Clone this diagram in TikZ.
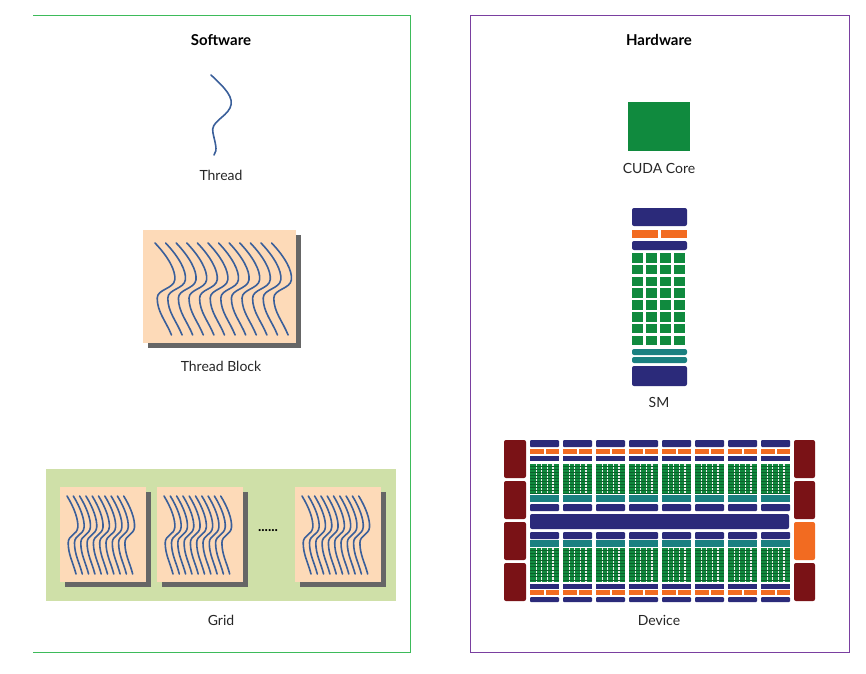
\documentclass[tikz,border=0pt]{standalone}
\usepackage{fontspec}
\setmainfont{Lato}
\definecolor{navy}{HTML}{2B2A7A}
\definecolor{cgreen}{HTML}{108A3E}
\definecolor{corange}{HTML}{F26B21}
\definecolor{cteal}{HTML}{1A8080}
\definecolor{cred}{HTML}{7A1216}
\definecolor{peach}{HTML}{FDDAB8}
\definecolor{lgreen}{HTML}{CFE0A8}
\definecolor{wblue}{HTML}{3A5F9A}
\definecolor{sgreen}{HTML}{3DBB5A}
\definecolor{spurple}{HTML}{7A3FA0}
\tikzset{
 lbl/.style={font=\fontsize{14}{16}\selectfont, text=black!85},
 ttl/.style={font=\fontsize{15}{18}\selectfont\bfseries},
 wave/.style={draw=wblue, line width=1.6pt, line cap=round},
 blk/.style={fill=peach, draw=none},
 shad/.style={fill=black!60, draw=none},
 pics/wv/.style={code={\draw[wave] (0,0) .. controls (0.6,0.15) and (0.95,0.3) .. (0.9,0.4) .. controls (0.85,0.5) and (0.1,0.5) .. (0.1,0.6) .. controls (0.1,0.75) and (0.5,0.85) .. (0.75,1);}}
}
\newcommand{\tblock}[4]{% x1 y1 x2 y2
 \fill[shad] (#1+5,#2+5) rectangle (#3+5,#4+5);
 \fill[blk] (#1,#2) rectangle (#3,#4);
}
\begin{document}
\begin{tikzpicture}[x=1pt,y=-1pt]
\useasboundingbox (0,0) rectangle (866,673);
% frames
\draw[sgreen, line width=0.8pt] (33,15) -- (410,15) -- (410,652) -- (33,652);
\draw[spurple, line width=0.8pt] (470,15) rectangle (849,652);
\node[ttl] (sw) at (221,40) {Software};
\node[ttl] (hw) at (659,40) {Hardware};
% thread
\draw[wave] (211,75) .. controls (225,88) and (235,98) .. (230,108) .. controls (225,118) and (210,122) .. (213,133) .. controls (215,143) and (218,150) .. (214,155);
\node[lbl] (thread) at (221,175) {Thread};
% thread block
\tblock{143}{230}{296}{343}
\foreach \i in {0,...,11}
  \pic[xscale=22,yscale=92] at (155+10.6*\i,243) {wv};
\node[lbl] (tb) at (221,366) {Thread Block};
% grid
\fill[lgreen] (46,469) rectangle (396,601);
\foreach \gx in {60,157,295}{
  \tblock{\gx}{487}{\gx+86}{582}
  \foreach \i in {0,...,9}
    \pic[xscale=12,yscale=78] at (\gx+7+6.3*\i,496) {wv};
}
\node[font=\fontsize{14}{16}\selectfont\bfseries] (dots) at (268,531) {......};
\node[lbl] (grid) at (221,620) {Grid};
% CUDA core
\fill[cgreen] (628,102) rectangle (690,151);
\node[lbl] (core) at (659,168) {CUDA Core};
% SM
\fill[navy, rounded corners=2pt] (632,208) rectangle (687,226);
\fill[corange] (632,230) rectangle (658,238);
\fill[corange] (661,230) rectangle (687,238);
\fill[navy, rounded corners=2pt] (632,241) rectangle (687,250);
\foreach \r in {0,...,7}
  \foreach \c in {0,...,3}
    \fill[cgreen] (632+14.1*\c,253+11.8*\r) rectangle (643+14.1*\c,262.5+11.8*\r);
\fill[cteal, rounded corners=2pt] (632,349) rectangle (687,355);
\fill[cteal, rounded corners=2pt] (632,357) rectangle (687,363);
\fill[navy, rounded corners=2pt] (632,366) rectangle (687,386);
\node[lbl] (sm) at (659,402) {SM};
% device
\foreach \yy in {440,481,522,563}{
  \fill[cred, rounded corners=2pt] (504,\yy) rectangle (526,\yy+38);
}
\foreach \yy/\cc in {440/cred,481/cred,522/corange,563/cred}{
  \fill[\cc, rounded corners=2pt] (794,\yy) rectangle (815,\yy+38);
}
\fill[navy, rounded corners=2pt] (530,514) rectangle (789,529);
\foreach \k in {0,...,7}{
  \pgfmathsetmacro\a{530+33*\k}
  \pgfmathsetmacro\b{\a+29}
  % top SM
  \fill[navy, rounded corners=1pt] (\a,440) rectangle (\b,447);
  \fill[corange] (\a,449) rectangle (\b,454);
  \fill[white] (\a+13.5,449) rectangle (\a+15.5,454);
  \fill[navy] (\a,456) rectangle (\b,461);
  \fill[cgreen] (\a,464) rectangle (\b,494);
  \fill[cteal] (\a,495) rectangle (\b,502);
  \fill[navy, rounded corners=1pt] (\a,504) rectangle (\b,511);
  % bottom SM
  \fill[navy, rounded corners=1pt] (\a,532) rectangle (\b,539);
  \fill[cteal] (\a,540) rectangle (\b,547);
  \fill[cgreen] (\a,548) rectangle (\b,582);
  \fill[navy] (\a,584) rectangle (\b,589);
  \fill[corange] (\a,590) rectangle (\b,595);
  \fill[white] (\a+13.5,590) rectangle (\a+15.5,595);
  \fill[navy, rounded corners=1pt] (\a,597) rectangle (\b,602);
  \foreach \s in {1,...,4}{
    \fill[white!85!gray] (\a+5.6*\s,464) rectangle (\a+5.6*\s+1.2,494);
    \fill[white!85!gray] (\a+5.6*\s,548) rectangle (\a+5.6*\s+1.2,582);
  }
  \foreach \h in {0,...,9}{
    \draw[black!30!cgreen, line width=0.4pt] (\a,466+3*\h) -- (\b,466+3*\h);
    \draw[black!30!cgreen, line width=0.4pt] (\a,550+3.3*\h) -- (\b,550+3.3*\h);
  }
}
\node[lbl] (dev) at (659,620) {Device};
\end{tikzpicture}
\end{document}
